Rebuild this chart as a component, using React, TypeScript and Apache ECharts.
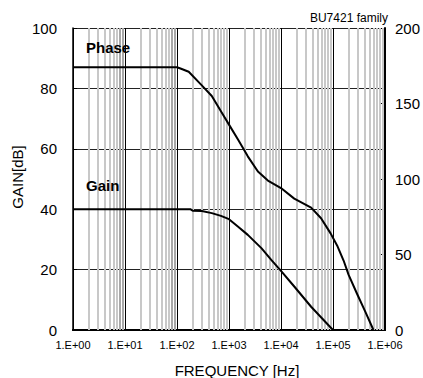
import React, { useEffect, useRef } from 'react';
import * as echarts from 'echarts';

const gainFreq = [1, 100, 180, 200, 300, 467, 700, 1000, 1500, 2300, 4200, 6500, 10000, 18000, 38000, 100000];
const gainDb = [40, 40, 40, 39.5, 39.4, 38.7, 37.8, 36.7, 34.2, 31.5, 27.1, 23.2, 19.6, 14.4, 7.7, 0];
const phaseFreq = [1, 100, 120, 168, 300, 467, 724, 1000, 1500, 2300, 3600, 5600, 10000, 18000, 38000, 59000, 90000, 120000, 160000, 200000, 290000, 420000, 600000];
const phaseDeg = [174, 174, 173, 171, 162, 155, 144, 136, 126, 115, 105, 99, 94, 87, 81, 74, 64, 56, 46, 36.5, 24, 12, 0];
const decadeExponents = [0, 1, 2, 3, 4, 5];
const minorMultipliers = [2, 3, 4, 5, 6, 7, 8, 9];
const gainTicks = [0, 20, 40, 60, 80, 100];
const phaseTicks = [0, 50, 100, 150, 200];

const FONT = 'Liberation Sans, Arial, sans-serif';

export default function App() {
  const ref = useRef<HTMLDivElement>(null);
  useEffect(() => {
    if (!ref.current) return;
    const chart = echarts.init(ref.current, undefined, { renderer: 'svg' });
    const minorLines: any[] = [];
    decadeExponents.forEach((e) => {
      minorMultipliers.forEach((m) => {
        const dark = e < 2 && m >= 8;
        minorLines.push({
          xAxis: m * Math.pow(10, e),
          lineStyle: { color: dark ? '#a8a8a8' : '#c8c8c8', width: 2, type: 'solid' },
        });
      });
    });
    const fmt = (v: number) => {
      const ex = Math.round(Math.log10(v));
      return '1.E+' + (ex < 10 ? '0' + ex : String(ex));
    };
    chart.setOption({
      animation: false,
      textStyle: { fontFamily: FONT },
      grid: { left: 73, right: 35, top: 28, bottom: 48 },
      xAxis: [
        {
          type: 'log', logBase: 10, min: 1, max: 1e6, position: 'bottom', splitNumber: 6,
          axisLine: { lineStyle: { color: '#000', width: 2 } },
          axisTick: { inside: true, length: 4, lineStyle: { color: '#000' } },
          axisLabel: { formatter: fmt, fontSize: 11, color: '#000', margin: 9, fontFamily: FONT },
          splitLine: { show: true, lineStyle: { color: '#000', width: 1 } },
          minorTick: { show: false }, minorSplitLine: { show: false },
        },
        {
          type: 'log', logBase: 10, min: 1, max: 1e6, position: 'top',
          axisLine: { lineStyle: { color: '#000', width: 2 } },
          axisTick: { show: false }, axisLabel: { show: false }, splitLine: { show: false },
        },
      ],
      yAxis: [
        {
          type: 'value', min: gainTicks[0], max: gainTicks[gainTicks.length - 1], interval: 20, position: 'left',
          axisLine: { show: true, lineStyle: { color: '#000', width: 1.5 } },
          axisTick: { show: true, inside: true, length: 4, lineStyle: { color: '#000' } },
          axisLabel: { fontSize: 15, color: '#000', margin: 16, fontFamily: FONT },
          splitLine: { show: true, lineStyle: { color: '#222', width: 1 } },
        },
        {
          type: 'value', min: phaseTicks[0], max: phaseTicks[phaseTicks.length - 1], interval: 50, position: 'right',
          axisLine: { show: true, lineStyle: { color: '#000', width: 2 } },
          axisTick: { show: true, inside: true, length: 4, lineStyle: { color: '#000' } },
          axisLabel: { fontSize: 15, color: '#000', margin: 10, fontFamily: FONT },
          splitLine: { show: false },
        },
      ],
      series: [
        {
          type: 'line', data: [], xAxisIndex: 0, yAxisIndex: 0, z: 1, silent: true,
          markLine: { silent: true, symbol: ['none', 'none'], label: { show: false }, data: minorLines, animation: false },
        },
        {
          name: 'Gain', type: 'line', xAxisIndex: 0, yAxisIndex: 0, z: 5,
          data: gainFreq.map((f, i) => [f, gainDb[i]]),
          showSymbol: false, lineStyle: { color: '#000', width: 2, join: 'round' }, itemStyle: { color: '#000' },
        },
        {
          name: 'Phase', type: 'line', xAxisIndex: 0, yAxisIndex: 1, z: 5,
          data: phaseFreq.map((f, i) => [f, phaseDeg[i]]),
          showSymbol: false, lineStyle: { color: '#000', width: 2, join: 'round' }, itemStyle: { color: '#000' },
        },
      ],
      graphic: [
        { type: 'text', left: 86, top: 40, z: 10, style: { text: 'Phase', fontSize: 15, fontWeight: 'bold', fill: '#000', fontFamily: FONT } },
        { type: 'text', left: 86, top: 178, z: 10, style: { text: 'Gain', fontSize: 15, fontWeight: 'bold', fill: '#000', fontFamily: FONT } },
        { type: 'text', x: 388, y: 18, z: 10, style: { text: 'BU7421 family', fontSize: 12, fill: '#000', fontFamily: FONT, textAlign: 'right', textVerticalAlign: 'middle' } },
        { type: 'text', x: 237, y: 370, z: 10, style: { text: 'FREQUENCY [Hz]', fontSize: 15, fill: '#000', fontFamily: FONT, textAlign: 'center', textVerticalAlign: 'middle' } },
        { type: 'text', x: 17, y: 177, rotation: Math.PI / 2, z: 10, style: { text: 'GAIN[dB]', fontSize: 15, fill: '#000', fontFamily: FONT, textAlign: 'center', textVerticalAlign: 'middle' } },
      ],
    });
    return () => chart.dispose();
  }, []);
  return <div ref={ref} style={{ position: 'fixed', left: 0, top: 0, width: 423, height: 378, background: '#fff' }} />;
}
